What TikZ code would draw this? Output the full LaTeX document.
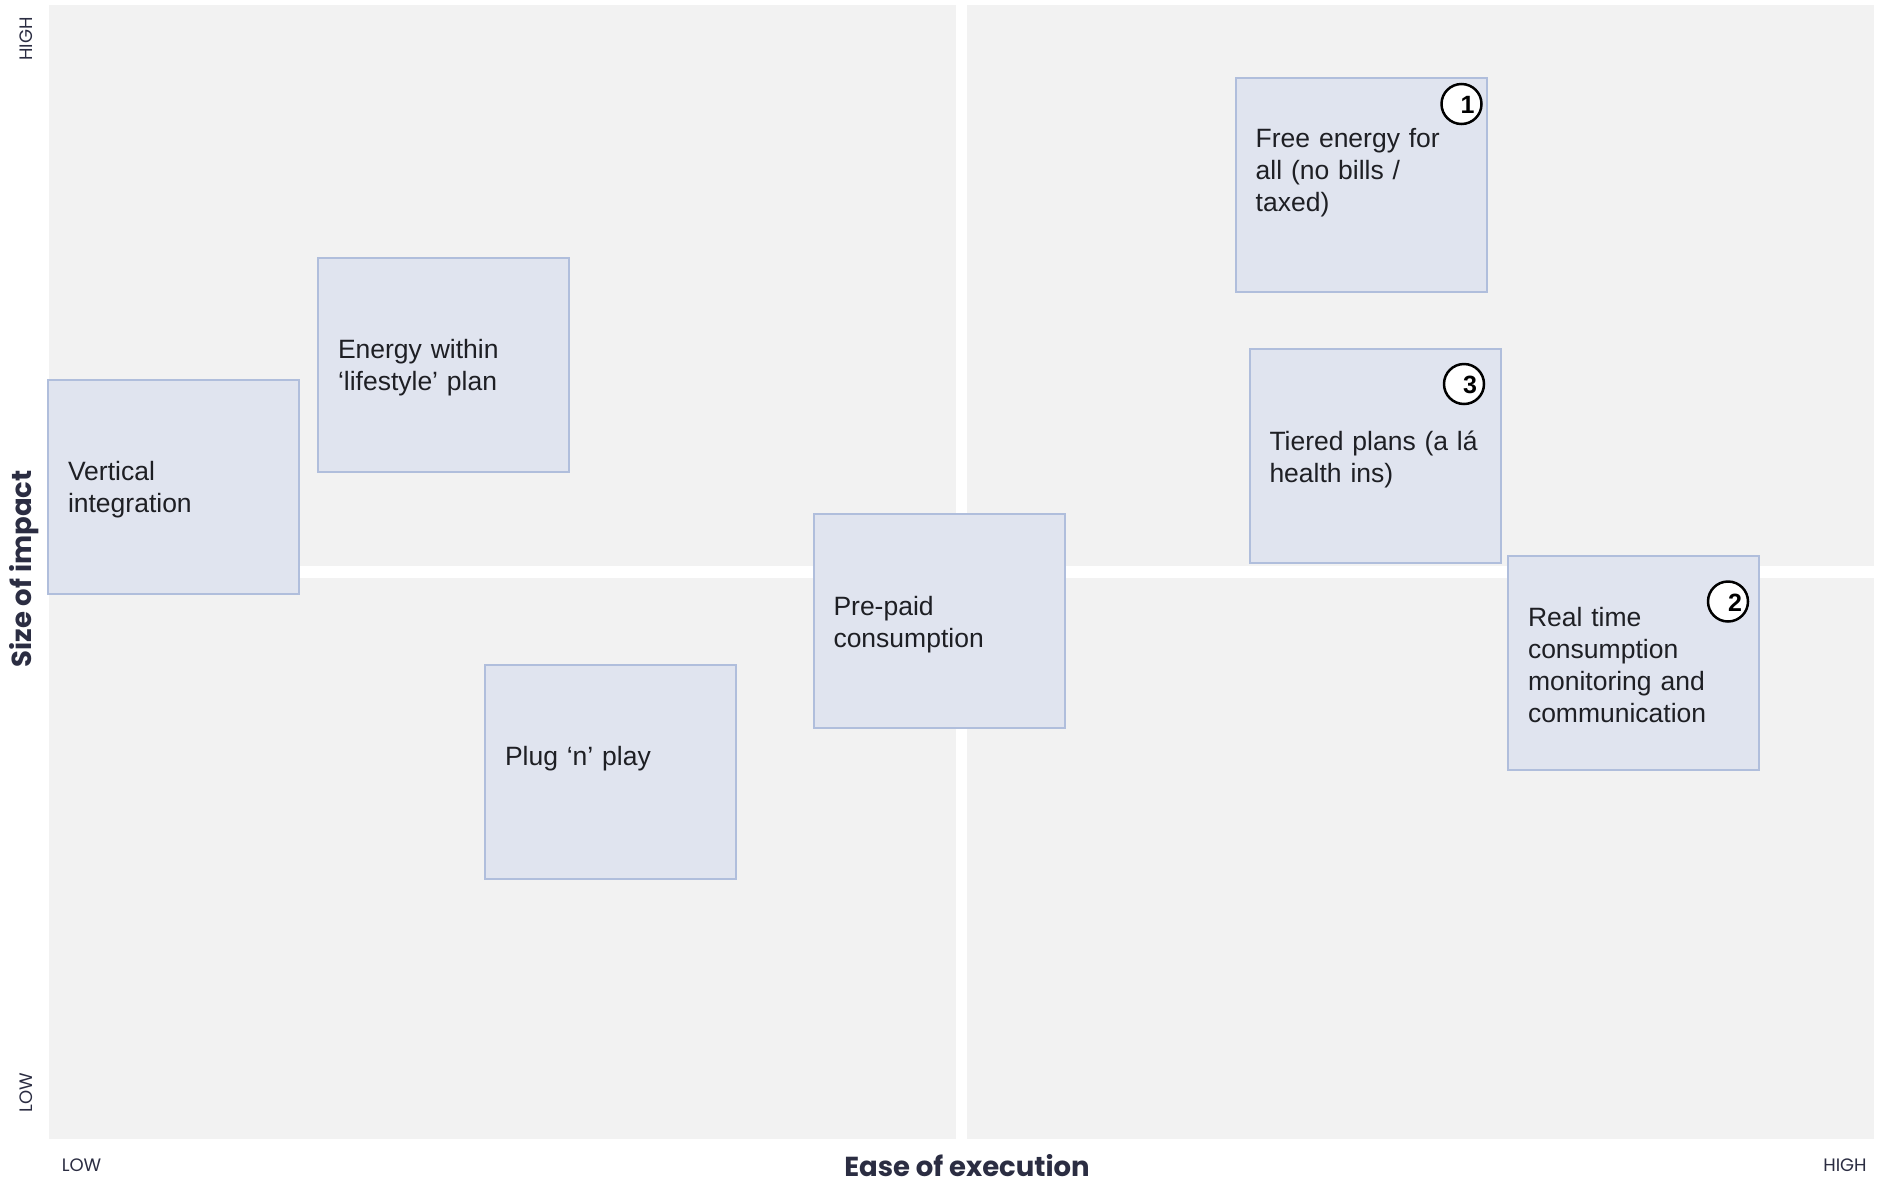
\documentclass[tikz,border=0pt]{standalone}
\usepackage{fontspec}
\setmainfont{Liberation Sans}
\newfontfamily\axisfont{Poppins}
\definecolor{quad}{HTML}{F2F2F2}
\definecolor{boxfill}{HTML}{E0E4EF}
\definecolor{boxline}{HTML}{B0BEDC}
\definecolor{boxtext}{HTML}{1E1F24}
\definecolor{axistext}{HTML}{2B2D42}
\tikzset{
  x=1pt, y=-1pt,
  quadrant/.style={fill=quad, draw=none},
  idea/.style={draw=boxline, fill=boxfill, line width=2pt, minimum width=251pt, minimum height=214pt},
  ideatext/.style={text width=211pt, inner sep=0pt, align=left, text=boxtext,
    font=\fontsize{26.5}{32}\selectfont},
  badge/.style={circle, draw=black, fill=white, line width=2.5pt, minimum size=40pt, inner sep=0pt},
  badgenum/.style={font=\fontsize{25}{25}\selectfont\bfseries, text=black, inner sep=0pt},
  axislbl/.style={font=\axisfont\fontsize{18}{18}\selectfont, text=axistext, inner sep=0pt},
  axistitle/.style={font=\axisfont\bfseries\fontsize{27.5}{27.5}\selectfont, text=axistext, inner sep=0pt,
    text height=20pt, text depth=0pt}
}
\begin{document}
\begin{tikzpicture}
\useasboundingbox (0,0) rectangle (1883,1179);
\fill[white] (0,0) rectangle (1883,1179);
% quadrants
\path[quadrant] (49,5) rectangle (956,566);
\path[quadrant] (967,5) rectangle (1874,566);
\path[quadrant] (49,578) rectangle (956,1139);
\path[quadrant] (967,578) rectangle (1874,1139);
% idea boxes
\node[idea] (vi) at (173.5,486.5) {};
\node[ideatext] (vit) at ([yshift=-3.5pt]vi.center) {Vertical\\integration};
\node[idea] (ewl) at (443.5,364.5) {};
\node[ideatext] (ewlt) at ([yshift=-3.5pt]ewl.center) {Energy within\\‘lifestyle’ plan};
\node[idea] (pnp) at (610.5,772) {};
\node[ideatext, anchor=base] (pnpt) at ([yshift=6.5pt]pnp.center) {Plug ‘n’ play};
\node[idea] (pp) at (939,621) {};
\node[ideatext] (ppt) at ([yshift=-3.5pt]pp.center) {Pre-paid\\consumption};
\node[idea] (fe) at (1361,185) {};
\node[ideatext, anchor=base west] (fet) at ([xshift=-105.5pt,yshift=37.5pt]fe.center) {Free energy for\\all (no bills /\\taxed)};
\node[idea] (tp) at (1375,456) {};
\node[ideatext] (tpt) at ([yshift=-3pt]tp.center) {Tiered plans (a lá\\health ins)};
\node[idea] (rt) at (1633.5,663) {};
\node[ideatext] (rtt) at ([yshift=-2pt]rt.center) {Real time\\consumption\\monitoring and\\communication};
% badges
\node[badge] (b1) at (1461.5,104) {};
\node[badgenum] (n1) at ([xshift=6pt,yshift=-1pt]b1.center) {1};
\node[badge] (b3) at (1464,384) {};
\node[badgenum] (n3) at ([xshift=6pt,yshift=-1pt]b3.center) {3};
\node[badge] (b2) at (1728,601.5) {};
\node[badgenum] (n2) at ([xshift=7pt,yshift=-1pt]b2.center) {2};
% axis labels
\node[axislbl, rotate=90] (yhigh) at (26,39) {HIGH};
\node[axislbl, rotate=90] (ylow) at (26,1093) {LOW};
\node[axistitle, rotate=90] (ytitle) at (21,569) {Size of impact};
\node[axislbl] (xlow) at (81.5,1165) {LOW};
\node[axislbl] (xhigh) at (1845,1165) {HIGH};
\node[axistitle] (xtitle) at (967,1166) {Ease of execution};
\end{tikzpicture}
\end{document}
